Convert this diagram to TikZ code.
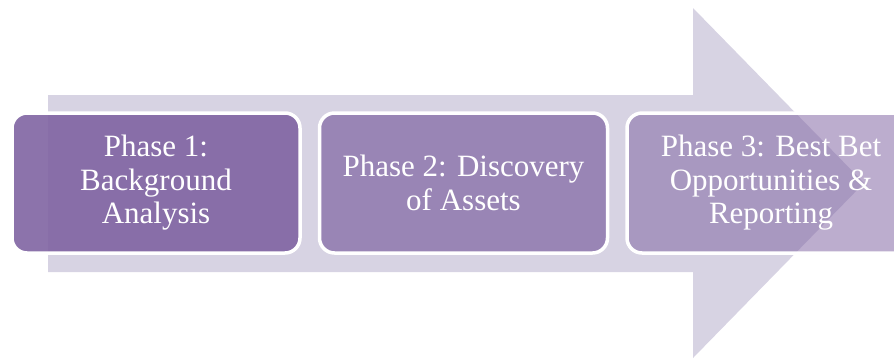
\documentclass[tikz,border=0pt]{standalone}
\usepackage{fontspec}
\setmainfont{Liberation Serif}
\usetikzlibrary{positioning}
\definecolor{phase}{RGB}{128,100,162}
\definecolor{flow}{RGB}{215,211,227}

\begin{document}
\begin{tikzpicture}[x=1pt, y=-1pt, node distance=16pt]
\tikzstyle{block}=[draw=white, line width=3.5pt, rounded corners=15pt, align=center, text=white, text opacity=1, minimum width=288pt, minimum height=140pt, inner sep=0pt, font=\fontsize{31}{33.5}\selectfont]
\useasboundingbox (0,0) rectangle (894,360);
% big background arrow
\fill[flow] (48,95) -- (693,95) -- (693,8) -- (864,183) -- (693,358) -- (693,272) -- (48,272) -- cycle;
\node[block, fill=phase, fill opacity=0.9] (p1) at (156,183) {Phase 1:\\Background\\Analysis};
\node[block, fill=phase, fill opacity=0.7, right=of p1] (p2) {Phase 2: Discovery\\of Assets};
\node[block, fill=phase, fill opacity=0.53, right=of p2] (p3) {Phase 3: Best Bet\\Opportunities \&\\Reporting};
\end{tikzpicture}
\end{document}
